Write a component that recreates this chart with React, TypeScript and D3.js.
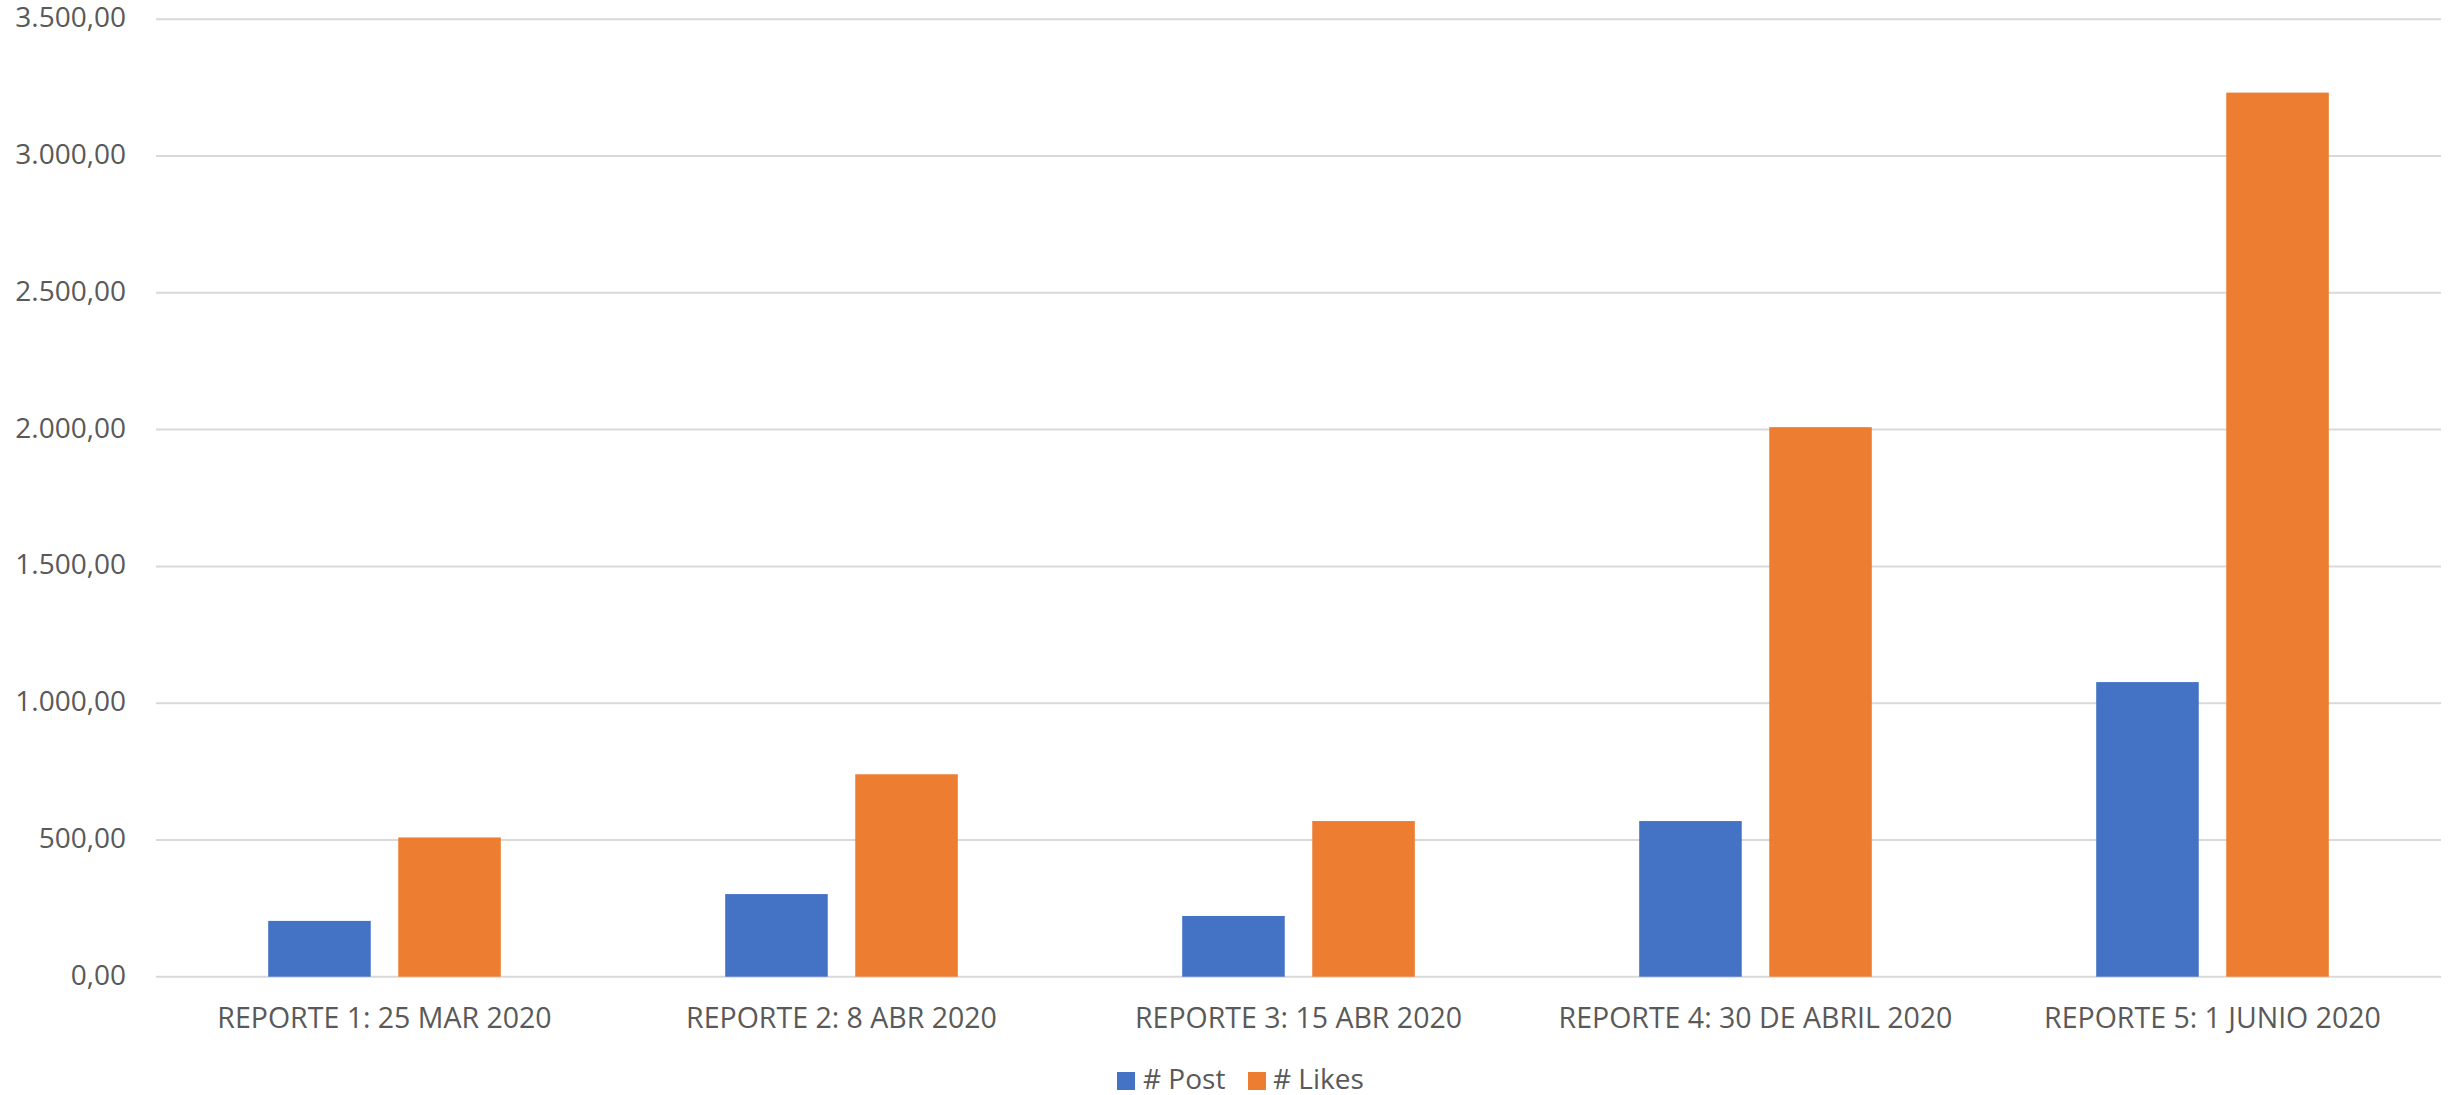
import React from "react";
import * as d3 from "d3";

const categories = [
  "REPORTE 1: 25 MAR 2020",
  "REPORTE 2: 8 ABR 2020",
  "REPORTE 3: 15 ABR 2020",
  "REPORTE 4: 30 DE ABRIL 2020",
  "REPORTE 5: 1 JUNIO 2020",
];
const seriesNames = ["# Post", "# Likes"];
const postValues = [204, 302, 222, 569, 1077];
const likesValues = [509, 740, 569, 2009, 3232];
const yTicks = [0, 500, 1000, 1500, 2000, 2500, 3000, 3500];
const colors = ["#4472C4", "#ED7D31"];

const W = 2453;
const H = 1095;
const FONT = "'Open Sans', 'Noto Sans', sans-serif";
const TEXT = "#595959";

export default function App() {
  const plotLeft = 156;
  const plotRight = 2441;
  const y0 = 976.7;
  const yTop = 19.3;

  const x0 = d3.scaleBand<string>().domain(categories).range([plotLeft, plotRight]).paddingInner(0).paddingOuter(0);
  const groupW = x0.bandwidth() * 0.509;
  const x1 = d3.scaleBand<string>().domain(seriesNames).range([0, groupW]).paddingInner(0.2115).paddingOuter(0);
  const y = d3.scaleLinear().domain([0, 3500]).range([y0, yTop]);

  const locale = d3.formatLocale({ decimal: ",", thousands: ".", grouping: [3], currency: ["", "€"] });
  const fmt = locale.format(",.2f");

  const data = [postValues, likesValues];

  return (
    <svg width={W} height={H} style={{ position: "absolute", left: 0, top: 0, background: "#fff" }} fontFamily={FONT}>
      <rect x={0} y={0} width={W} height={H} fill="#fff" />
      {yTicks.map((t) => (
        <g key={t}>
          <line x1={plotLeft} x2={plotRight} y1={y(t)} y2={y(t)} stroke="#D9D9D9" strokeWidth={2} />
          <text x={126} y={y(t) + 8} textAnchor="end" fontSize={28} fill={TEXT}>
            {fmt(t)}
          </text>
        </g>
      ))}
      {categories.map((c, i) => {
        const gx = (x0(c) as number) + (x0.bandwidth() - groupW) / 2;
        return (
          <g key={c}>
            {seriesNames.map((s, si) => {
              const v = data[si][i];
              return (
                <rect
                  key={s}
                  x={gx + (x1(s) as number)}
                  y={y(v)}
                  width={x1.bandwidth()}
                  height={y(0) - y(v)}
                  fill={colors[si]}
                />
              );
            })}
            <text x={(x0(c) as number) + x0.bandwidth() / 2} y={1028} textAnchor="middle" fontSize={28.5} fill={TEXT}>
              {c}
            </text>
          </g>
        );
      })}
      <g>
        <rect x={1117} y={1072} width={18} height={18} fill={colors[0]} />
        <text x={1143} y={1089} fontSize={28} fill={TEXT}>{seriesNames[0]}</text>
        <rect x={1248} y={1072} width={18} height={18} fill={colors[1]} />
        <text x={1273} y={1089} fontSize={28} fill={TEXT}>{seriesNames[1]}</text>
      </g>
    </svg>
  );
}
